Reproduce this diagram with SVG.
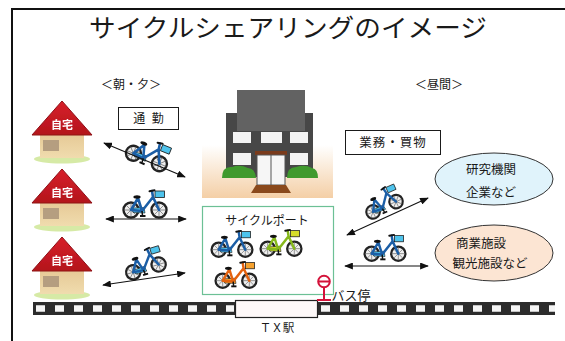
<svg xmlns="http://www.w3.org/2000/svg" xmlns:xlink="http://www.w3.org/1999/xlink" width="565" height="341" viewBox="0 0 565 341">
  <style>
    .t { font-family: "Noto Sans CJK JP", "Noto Sans", sans-serif; fill: #1a1a1a; text-anchor: middle; }
    .box { fill: #ffffff; stroke: #1a1a1a; stroke-width: 1; }
    .arrow { fill: none; stroke: #111; stroke-width: 1.1; marker-start: url(#ah); marker-end: url(#ah); }
    .wheel { fill: #efefef; stroke: #222; stroke-width: 2.4; }
    .spoke { fill: none; stroke: #666; stroke-width: 0.7; }
    .frame { fill: none; stroke: currentColor; stroke-width: 2.6; stroke-linejoin: round; stroke-linecap: round; }
  </style>
  <defs>
    <marker id="ah" viewBox="0 0 10 8" refX="9" refY="4" markerWidth="9" markerHeight="7" markerUnits="userSpaceOnUse" orient="auto-start-reverse">
      <path d="M0,0 L10,4 L0,8 Z" fill="#111"/>
    </marker>
    <filter id="soft" x="-5%" y="-5%" width="110%" height="110%">
      <feGaussianBlur stdDeviation="0.5"/>
    </filter>
    <linearGradient id="wall" x1="0" y1="0" x2="0" y2="1">
      <stop offset="0" stop-color="#e6c996"/>
      <stop offset="1" stop-color="#f0dcae"/>
    </linearGradient>
    <linearGradient id="roof" x1="0" y1="0" x2="0" y2="1">
      <stop offset="0" stop-color="#d8202a"/>
      <stop offset="1" stop-color="#b3141c"/>
    </linearGradient>
    <linearGradient id="ground" x1="0" y1="0" x2="0" y2="1">
      <stop offset="0" stop-color="#ffffff"/>
      <stop offset="1" stop-color="#f4cfa6"/>
    </linearGradient>
    <!-- bicycle facing right; frame uses currentColor, basket and chain guard inherit fill -->
    <g id="bike">
      <circle class="wheel" cx="9" cy="23" r="7.5"/>
      <circle class="wheel" cx="37" cy="23" r="7.5"/>
      <path class="spoke" d="M9,16v14M2,23h14M4,18l10,10M14,18l-10,10M37,16v14M30,23h14M32,18l10,10M42,18l-10,10"/>
      <path d="M11,21 L22,20.5 L23,26 L11,25.5 Z" stroke="#1a1a1a" stroke-width="0.6"/>
      <path class="frame" d="M9,23 L20,24 L16,11 Z M20,24 L31,10 L37,23 M31,10 L30,4"/>
      <ellipse cx="15" cy="10" rx="3.6" ry="1.7" fill="#111"/>
      <path d="M27.5,4.2 L32.5,3.2" stroke="#111" stroke-width="2" stroke-linecap="round"/>
      <rect x="33" y="4" width="9.5" height="6.5" stroke="#1a1a1a" stroke-width="0.8"/>
      <path d="M20,24 L20.5,28.5" stroke="#111" stroke-width="1.5"/>
      <rect x="18" y="28" width="5.5" height="2" fill="#111"/>
    </g>
  </defs>

  <rect width="565" height="341" fill="#ffffff"/>
  <!-- outer frame (open on right and bottom) -->
  <path d="M12,341 V9 H565" fill="none" stroke="#111" stroke-width="2"/>

  <text class="t" x="288" y="37" font-size="25" textLength="398" lengthAdjust="spacingAndGlyphs">サイクルシェアリングのイメージ</text>
  <text class="t" x="131" y="89" font-size="12">＜朝・夕＞</text>
  <text class="t" x="439" y="89" font-size="12">＜昼間＞</text>

  <!-- homes -->
  <g id="home1" filter="url(#soft)" transform="translate(31,101)">
    <ellipse cx="31" cy="58" rx="28" ry="4.5" fill="#d6eaa6"/>
    <rect x="9" y="33" width="44" height="24" fill="url(#wall)"/>
    <rect x="12" y="39" width="16" height="11" fill="#b59e80"/>
    <polygon points="31,0 1,34 61,34" fill="url(#roof)" stroke="#8e1016" stroke-width="1"/>
    <text class="t" x="31" y="28" font-size="11" font-weight="bold" style="fill:#fff">自宅</text>
  </g>
  <g id="home2" filter="url(#soft)" transform="translate(31,169)">
    <ellipse cx="31" cy="58" rx="28" ry="4.5" fill="#d6eaa6"/>
    <rect x="9" y="33" width="44" height="24" fill="url(#wall)"/>
    <rect x="12" y="39" width="16" height="11" fill="#b59e80"/>
    <polygon points="31,0 1,34 61,34" fill="url(#roof)" stroke="#8e1016" stroke-width="1"/>
    <text class="t" x="31" y="28" font-size="11" font-weight="bold" style="fill:#fff">自宅</text>
  </g>
  <g id="home3" filter="url(#soft)" transform="translate(31,237)">
    <ellipse cx="31" cy="58" rx="28" ry="4.5" fill="#d6eaa6"/>
    <rect x="9" y="33" width="44" height="24" fill="url(#wall)"/>
    <rect x="12" y="39" width="16" height="11" fill="#b59e80"/>
    <polygon points="31,0 1,34 61,34" fill="url(#roof)" stroke="#8e1016" stroke-width="1"/>
    <text class="t" x="31" y="28" font-size="11" font-weight="bold" style="fill:#fff">自宅</text>
  </g>

  <!-- commute label -->
  <g id="commute">
    <rect class="box" x="118.5" y="107.5" width="60" height="22"/>
    <text class="t" x="149.5" y="123" font-size="12" letter-spacing="2">通 勤</text>
  </g>

  <!-- office building -->
  <g id="building" filter="url(#soft)">
    <rect x="202" y="145" width="131" height="53" fill="url(#ground)"/>
    <rect x="226" y="113" width="87" height="64" fill="#464646"/>
    <rect x="237" y="90" width="68" height="41" fill="#626262"/>
    <rect x="233" y="132" width="18" height="11" fill="#f4f4f4"/>
    <rect x="261" y="132" width="21" height="11" fill="#f4f4f4"/>
    <rect x="290" y="132" width="18" height="11" fill="#f4f4f4"/>
    <rect x="233" y="153" width="18" height="12" fill="#f4f4f4"/>
    <rect x="290" y="153" width="18" height="12" fill="#f4f4f4"/>
    <rect x="255" y="151" width="32" height="4" fill="#7a3a1a"/>
    <rect x="257" y="155" width="28" height="30" fill="#f6f6f6" stroke="#555" stroke-width="1"/>
    <line x1="271" y1="155" x2="271" y2="185" stroke="#555" stroke-width="1"/>
    <path d="M222,178 Q222,166 232,167 Q240,164 248,168 Q255,168 256,178 Z" fill="#3f9a2e"/>
    <path d="M287,178 Q287,167 296,167 Q305,164 312,168 Q318,169 318,178 Z" fill="#3f9a2e"/>
    <path d="M256,185 L286,185 L291,193 L251,193 Z" fill="#8a4a1c"/>
  </g>

  <!-- business label -->
  <g id="business">
    <rect class="box" x="345.5" y="130.5" width="95" height="24"/>
    <text class="t" x="393" y="147" font-size="12.5" letter-spacing="1">業務・買物</text>
  </g>

  <!-- destinations -->
  <g id="research">
    <ellipse cx="494" cy="179" rx="59" ry="26" fill="#e0f3fb" stroke="#333" stroke-width="1"/>
    <text class="t" x="491" y="173.5" font-size="12.5">研究機関</text>
    <text class="t" x="491" y="196.5" font-size="12.5">企業など</text>
  </g>
  <g id="commerce">
    <ellipse cx="494" cy="253" rx="59" ry="28" fill="#fce5d3" stroke="#333" stroke-width="1"/>
    <text class="t" x="481" y="247.5" font-size="12.5">商業施設</text>
    <text class="t" x="490" y="268" font-size="12.5">観光施設など</text>
  </g>

  <!-- cycle port -->
  <g id="cycleport">
    <rect x="202.5" y="206.5" width="131" height="88" fill="#ffffff" stroke="#6cc095" stroke-width="1.2"/>
    <text class="t" x="267" y="224.5" font-size="12">サイクルポート</text>
    <use xlink:href="#bike" transform="translate(232,243) scale(0.95) translate(-23,-16)" color="#1b5ea6" fill="#4ec3ec"/>
    <use xlink:href="#bike" transform="translate(281,242) scale(0.95) translate(-23,-16)" color="#86b81c" fill="#d5dc2a"/>
    <use xlink:href="#bike" transform="translate(236,274) scale(0.95) translate(-23,-16)" color="#e4620e" fill="#f5a12e"/>
  </g>

  <!-- railway -->
  <g id="railway">
    <rect x="33" y="302" width="522" height="13" fill="#2c2c2c"/>
    <line x1="36" y1="308.5" x2="234" y2="308.5" stroke="#f5f5f5" stroke-width="6.5" stroke-dasharray="9 10"/>
    <line x1="321" y1="308.5" x2="555" y2="308.5" stroke="#f5f5f5" stroke-width="6.5" stroke-dasharray="9 10"/>
  </g>
  <g id="station">
    <rect x="235.5" y="300.5" width="82" height="17" fill="#fdf8f8" stroke="#222" stroke-width="1.2"/>
    <text class="t" x="277" y="332" font-size="11.5">ＴＸ駅</text>
  </g>

  <!-- bus stop -->
  <g id="busstop">
    <circle cx="324" cy="281.5" r="5.8" fill="#ffffff" stroke="#d4133a" stroke-width="2"/>
    <line x1="318.5" y1="281.5" x2="329.5" y2="281.5" stroke="#d4133a" stroke-width="2"/>
    <line x1="324" y1="287" x2="324" y2="300" stroke="#d4133a" stroke-width="2"/>
    <line x1="317" y1="300" x2="331" y2="300" stroke="#d4133a" stroke-width="2"/>
    <text class="t" x="351" y="300" font-size="13">バス停</text>
  </g>

  <!-- bicycles along routes -->
  <g id="bikes">
    <use xlink:href="#bike" transform="translate(149,152) rotate(22) translate(-23,-16)" color="#1b5ea6" fill="#4ec3ec"/>
    <use xlink:href="#bike" transform="translate(145,203) translate(-23,-16)" color="#1b5ea6" fill="#4ec3ec"/>
    <use xlink:href="#bike" transform="translate(144,262) rotate(-17) scale(0.95) translate(-23,-16)" color="#1b5ea6" fill="#4ec3ec"/>
    <use xlink:href="#bike" transform="translate(382,201) rotate(-24) scale(0.9) translate(-23,-16)" color="#1b5ea6" fill="#4ec3ec"/>
    <use xlink:href="#bike" transform="translate(385,247) scale(0.95) translate(-23,-16)" color="#1b5ea6" fill="#4ec3ec"/>
  </g>

  <!-- connectors -->
  <g id="connectors">
    <line class="arrow" x1="104" y1="143" x2="185" y2="177"/>
    <line class="arrow" x1="106" y1="219" x2="186" y2="219"/>
    <line class="arrow" x1="103" y1="285" x2="185" y2="273"/>
    <line class="arrow" x1="347" y1="235" x2="428" y2="198"/>
    <line class="arrow" x1="345" y1="266" x2="428" y2="266"/>
  </g>
</svg>
